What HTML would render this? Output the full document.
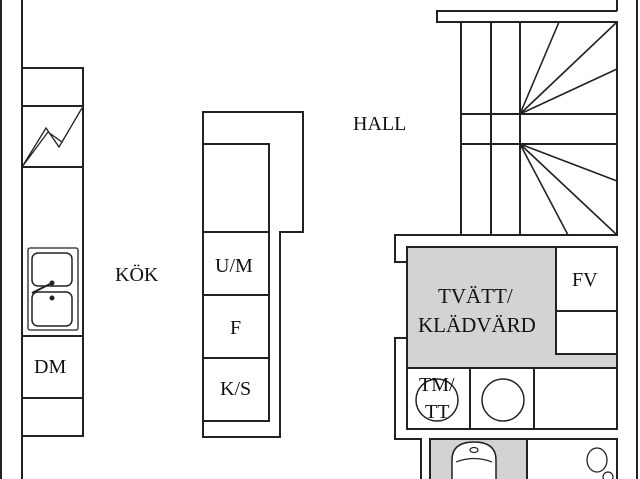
<!DOCTYPE html>
<html><head><style>body{margin:0;background:#fff}svg{display:block}text{font-family:"Liberation Serif",serif;font-size:20px;fill:#111}</style></head><body>
<svg width="640" height="479" viewBox="0 0 640 479" stroke="#222" stroke-width="2" fill="none">
<line x1="1" y1="0" x2="1" y2="479"/><line x1="22" y1="0" x2="22" y2="479"/>
<rect x="22" y="68" width="61" height="368"/>
<line x1="22" y1="106" x2="83" y2="106"/><line x1="22" y1="167" x2="83" y2="167"/>
<line x1="22" y1="336" x2="83" y2="336"/><line x1="22" y1="398" x2="83" y2="398"/>
<polyline stroke-width="1.3" points="22,167 46,128 59,147 82,108 62,142 48,132 22,167"/>
<rect x="28" y="248" width="50" height="82" rx="2" stroke-width="1.3"/>
<rect x="32" y="253" width="40" height="33" rx="6" stroke-width="1.5"/>
<rect x="32" y="292" width="40" height="34" rx="6" stroke-width="1.5"/>
<line x1="32" y1="293" x2="52" y2="283" stroke-width="2"/>
<circle cx="52" cy="283" r="1.5" fill="#222"/><circle cx="52" cy="298" r="1.5" fill="#222"/>
<text x="34" y="373" stroke="none">DM</text>
<text x="115" y="281" stroke="none">KÖK</text>
<polyline points="203,232 203,112 303,112 303,232 280,232 280,437 203,437 203,232"/>
<polyline points="203,144 269,144 269,421 203,421"/>
<line x1="203" y1="232" x2="269" y2="232"/><line x1="203" y1="295" x2="269" y2="295"/><line x1="203" y1="358" x2="269" y2="358"/>
<text x="215" y="272" stroke="none">U/M</text><text x="230" y="334" stroke="none">F</text><text x="220" y="395" stroke="none">K/S</text>
<text x="353" y="130" stroke="none">HALL</text>
<line x1="617" y1="0" x2="617" y2="11"/><line x1="637" y1="0" x2="637" y2="479"/>
<polyline points="617,11 437,11 437,22 617,22"/>
<rect x="461" y="22" width="156" height="213"/>
<line x1="491" y1="22" x2="491" y2="235"/><line x1="520" y1="22" x2="520" y2="235"/>
<line x1="461" y1="114" x2="617" y2="114"/><line x1="461" y1="144" x2="617" y2="144"/>
<g stroke-width="1.6"><line x1="520" y1="114" x2="559" y2="22"/><line x1="520" y1="114" x2="617" y2="22"/><line x1="520" y1="114" x2="617" y2="69"/>
<line x1="520" y1="144" x2="617" y2="181"/><line x1="520" y1="144" x2="617" y2="235"/><line x1="520" y1="144" x2="568" y2="235"/></g>
<polyline points="617,235 395,235 395,262 407,262"/>
<rect x="407" y="247" width="210" height="121" fill="#d3d3d3"/>
<rect x="556" y="247" width="61" height="107" fill="#fff"/>
<line x1="556" y1="311" x2="617" y2="311"/>
<text x="438" y="303" stroke="none" style="font-size:21px">TVÄTT/</text><text x="418" y="332" stroke="none" style="font-size:21px">KLÄDVÄRD</text>
<text x="572" y="286" stroke="none">FV</text>
<rect x="407" y="368" width="210" height="61"/>
<line x1="470" y1="368" x2="470" y2="429"/><line x1="534" y1="368" x2="534" y2="429"/>
<circle cx="437" cy="400" r="21" stroke-width="1.5"/><circle cx="503" cy="400" r="21" stroke-width="1.5"/>
<text x="419" y="391" stroke="none">TM/</text><text x="425" y="418" stroke="none">TT</text>
<polyline points="407,338 395,338 395,439 421,439 421,479"/>
<rect x="430" y="439" width="97" height="45" fill="#d3d3d3"/>
<rect x="527" y="439" width="90" height="45"/>
<path d="M452,479 V460 Q452,442 474,442 Q496,442 496,460 V479" fill="#fff" stroke-width="1.5"/>
<path d="M456,462 Q474,455 492,462" stroke-width="1.2"/><ellipse cx="474" cy="450" rx="4" ry="2.5" stroke-width="1.2"/>
<ellipse cx="597" cy="460" rx="10" ry="12" stroke-width="1.3"/><circle cx="608" cy="477" r="5" stroke-width="1.2"/>
</svg></body></html>
